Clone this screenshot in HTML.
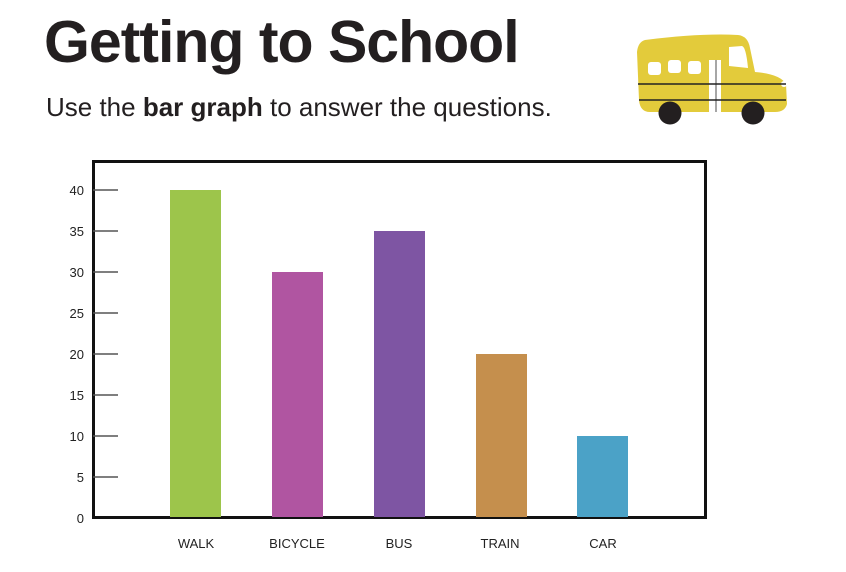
<!DOCTYPE html>
<html><head><style>
body{margin:0;width:846px;height:572px;background:#fff;overflow:hidden;font-family:"Liberation Sans",sans-serif;}
.t{position:absolute;left:44px;top:8px;font-size:59px;font-weight:bold;color:#231f20;letter-spacing:-1px;}
.s{position:absolute;left:46px;top:92px;font-size:26px;color:#231f20;}
</style></head><body>
<div class="t">Getting to School</div>
<div class="s">Use the <b>bar graph</b> to answer the questions.</div>
<svg width="846" height="572" style="position:absolute;left:0;top:0">
<path d="M645 40 Q700 33 738 35 Q748 36 750 48 L755 72 Q780 74 786 84 L787 104 Q785 112 775 112 L650 112 Q640 112 639 100 L637 52 Q638 42 645 40Z" fill="#e3cb3b"/>
<rect x="648" y="62" width="13" height="13" rx="3" fill="#fff"/>
<rect x="668" y="60" width="13" height="13" rx="3" fill="#fff"/>
<rect x="688" y="61" width="13" height="13" rx="3" fill="#fff"/>
<path d="M729 47 L742 46 Q746 47 748 68 L729 66Z" fill="#fff"/>
<rect x="709" y="60" width="12" height="52" fill="#fff"/>
<line x1="716" y1="60" x2="716" y2="112" stroke="#888" stroke-width="1.5"/>
<circle cx="784" cy="84" r="3" fill="#fff"/>
<line x1="638" y1="84" x2="786" y2="84" stroke="#222" stroke-width="1.5"/>
<line x1="639" y1="100" x2="786" y2="100" stroke="#222" stroke-width="1.5"/>
<circle cx="670" cy="113" r="11.5" fill="#231f20"/>
<circle cx="753" cy="113" r="11.5" fill="#231f20"/>
<rect x="93.5" y="161.5" width="612" height="356" fill="none" stroke="#111" stroke-width="3"/>
<g stroke="#555" stroke-width="1.5">
<line x1="93" y1="190" x2="118" y2="190"/><line x1="93" y1="231" x2="118" y2="231"/>
<line x1="93" y1="272" x2="118" y2="272"/><line x1="93" y1="313" x2="118" y2="313"/>
<line x1="93" y1="354" x2="118" y2="354"/><line x1="93" y1="395" x2="118" y2="395"/>
<line x1="93" y1="436" x2="118" y2="436"/><line x1="93" y1="477" x2="118" y2="477"/>
</g>
<g font-size="13" fill="#222" text-anchor="end" font-family="Liberation Sans">
<text x="84" y="195">40</text><text x="84" y="236">35</text><text x="84" y="277">30</text>
<text x="84" y="318">25</text><text x="84" y="359">20</text><text x="84" y="400">15</text>
<text x="84" y="441">10</text><text x="84" y="482">5</text><text x="84" y="523">0</text>
</g>
<rect x="170" y="190" width="51" height="327" fill="#9dc54b"/>
<rect x="272" y="272" width="51" height="245" fill="#b055a1"/>
<rect x="374" y="231" width="51" height="286" fill="#7e55a3"/>
<rect x="476" y="354" width="51" height="163" fill="#c58f4d"/>
<rect x="577" y="436" width="51" height="81" fill="#4ba2c7"/>
<g font-size="13" fill="#222" text-anchor="middle" font-family="Liberation Sans">
<text x="196" y="548">WALK</text><text x="297" y="548">BICYCLE</text><text x="399" y="548">BUS</text>
<text x="500" y="548">TRAIN</text><text x="603" y="548">CAR</text>
</g>
</svg>
</body></html>
